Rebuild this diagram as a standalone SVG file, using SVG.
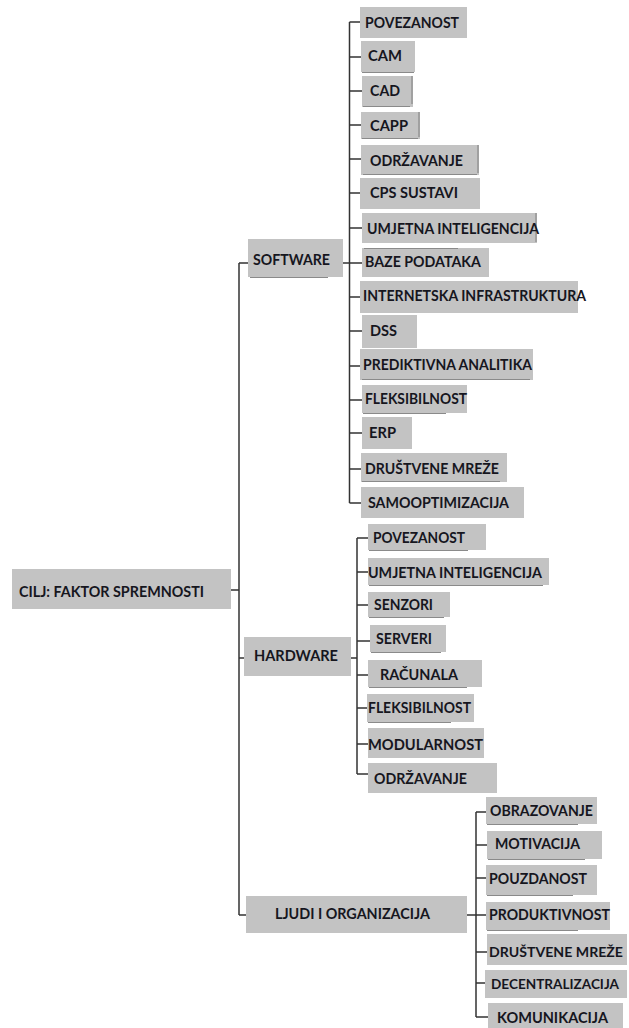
<svg xmlns="http://www.w3.org/2000/svg" width="629" height="1028" viewBox="0 0 629 1028">
<style>
.box{fill:#c3c3c3}
.lbl{font-family:Lato,"Liberation Sans",sans-serif;font-weight:700;font-size:15px;fill:#16161e}
.sm{font-size:13.5px}
.ln{stroke:#333;stroke-width:1.5;fill:none}
.sh{stroke:#8a8a8a;stroke-width:1.2;fill:none}
</style>
<rect width="629" height="1028" fill="#fff"/>
<g id="connectors">
<path class="ln" d="M231,590H239M239,263V915M239,263H248M239,658H244M239,915H246"/>
<path class="ln" d="M343,263H362M349.5,22V503M349.5,22H360M349.5,57H361M349.5,91H362M349.5,125H361M349.5,159H361M349.5,193H360M349.5,228H362M349.5,297H360M349.5,331H362M349.5,366H360M349.5,400H362M349.5,433H362M349.5,469H361M349.5,503H361"/>
<path class="ln" d="M351,658H357M357,538V774M357,538H368M357,572H368M357,605H368M357,641H370M357,675H368M357,708H367M357,744H368M357,774H368"/>
<path class="ln" d="M467,915H486M476,812V1017M476,812H486M476,845H487M476,878H486M476,952H487M476,983H485M476,1017H488"/>
</g>
<g id="root"><rect class="box" x="12" y="569" width="219" height="40"/><text class="lbl" x="19" y="597" textLength="185" lengthAdjust="spacingAndGlyphs">CILJ: FAKTOR SPREMNOSTI</text></g>
<g id="software"><rect class="box" x="248" y="239" width="95" height="38"/><path class="sh" d="M250,277.5H328"/><text class="lbl" x="253" y="265" textLength="77" lengthAdjust="spacingAndGlyphs">SOFTWARE</text></g>
<g id="hardware"><rect class="box" x="244" y="637" width="107" height="39"/><text class="lbl" x="254" y="661" textLength="84" lengthAdjust="spacingAndGlyphs">HARDWARE</text></g>
<g id="ljudi"><rect class="box" x="246" y="896" width="221" height="37"/><text class="lbl" x="275" y="919" textLength="155" lengthAdjust="spacingAndGlyphs">LJUDI I ORGANIZACIJA</text></g>

<g id="sw-povezanost"><rect class="box" x="360" y="7" width="107" height="31"/><text class="lbl" x="365" y="28" textLength="94" lengthAdjust="spacingAndGlyphs">POVEZANOST</text></g>
<g id="sw-cam"><rect class="box" x="361" y="41" width="54" height="31"/><path class="sh" d="M362,72.5H414"/><text class="lbl" x="368" y="61" textLength="34" lengthAdjust="spacingAndGlyphs">CAM</text></g>
<g id="sw-cad"><rect class="box" x="362" y="76" width="51" height="31"/><path class="sh" d="M363,106.5H410M412,76V104"/><text class="lbl" x="370" y="96" textLength="30" lengthAdjust="spacingAndGlyphs">CAD</text></g>
<g id="sw-capp"><rect class="box" x="361" y="112" width="59" height="27"/><path class="sh" d="M362,138.5H418M419,112V137"/><text class="lbl" x="370" y="131" textLength="38" lengthAdjust="spacingAndGlyphs">CAPP</text></g>
<g id="sw-odrzavanje"><rect class="box" x="361" y="145" width="118" height="30"/><path class="sh" d="M363,174.5H477M478,145V173"/><text class="lbl" x="370" y="166" textLength="93" lengthAdjust="spacingAndGlyphs">ODRŽAVANJE</text></g>
<g id="sw-cps"><rect class="box" x="360" y="178" width="120" height="31"/><text class="lbl" x="370" y="198" textLength="88" lengthAdjust="spacingAndGlyphs">CPS SUSTAVI</text></g>
<g id="sw-ui"><rect class="box" x="362" y="213" width="175" height="30"/><path class="sh" d="M536,213V242"/><text class="lbl" x="367" y="234" textLength="172" lengthAdjust="spacingAndGlyphs">UMJETNA INTELIGENCIJA</text></g>
<g id="sw-baze"><rect class="box" x="362" y="248" width="127" height="29"/><path class="sh" d="M364,248.5H458"/><text class="lbl" x="365" y="267" textLength="116" lengthAdjust="spacingAndGlyphs">BAZE PODATAKA</text></g>
<g id="sw-internet"><rect class="box" x="360" y="281" width="218" height="32"/><text class="lbl" x="363" y="301" textLength="223" lengthAdjust="spacingAndGlyphs">INTERNETSKA INFRASTRUKTURA</text></g>
<g id="sw-dss"><rect class="box" x="362" y="315" width="55" height="33"/><text class="lbl" x="370" y="336" textLength="27" lengthAdjust="spacingAndGlyphs">DSS</text></g>
<g id="sw-prediktivna"><rect class="box" x="360" y="349" width="173" height="31"/><path class="sh" d="M362,379.5H530"/><text class="lbl" x="363" y="370" textLength="169" lengthAdjust="spacingAndGlyphs">PREDIKTIVNA ANALITIKA</text></g>
<g id="sw-fleksibilnost"><rect class="box" x="362" y="385" width="105" height="28"/><path class="sh" d="M363,413.5H446"/><text class="lbl" x="365" y="404" textLength="102" lengthAdjust="spacingAndGlyphs">FLEKSIBILNOST</text></g>
<g id="sw-erp"><rect class="box" x="362" y="417" width="50" height="32"/><text class="lbl" x="369" y="438" textLength="27" lengthAdjust="spacingAndGlyphs">ERP</text></g>
<g id="sw-drustvene"><rect class="box" x="361" y="453" width="146" height="29"/><path class="sh" d="M362,481.5H500"/><text class="lbl" x="365" y="474" textLength="134" lengthAdjust="spacingAndGlyphs">DRUŠTVENE MREŽE</text></g>
<g id="sw-samooptimizacija"><rect class="box" x="361" y="487" width="163" height="31"/><text class="lbl" x="368" y="508" textLength="141" lengthAdjust="spacingAndGlyphs">SAMOOPTIMIZACIJA</text></g>

<g id="hw-povezanost"><rect class="box" x="368" y="524" width="118" height="26"/><path class="sh" d="M369,550.5H468"/><text class="lbl" x="373" y="543" textLength="92" lengthAdjust="spacingAndGlyphs">POVEZANOST</text></g>
<g id="hw-ui"><rect class="box" x="368" y="558" width="181" height="27"/><path class="sh" d="M369,585.5H543"/><text class="lbl" x="368" y="578" textLength="174" lengthAdjust="spacingAndGlyphs">UMJETNA INTELIGENCIJA</text></g>
<g id="hw-senzori"><rect class="box" x="368" y="592" width="82" height="25"/><path class="sh" d="M369,617.5H444"/><text class="lbl" x="374" y="610" textLength="59" lengthAdjust="spacingAndGlyphs">SENZORI</text></g>
<g id="hw-serveri"><rect class="box" x="370" y="625" width="76" height="27"/><path class="sh" d="M371,652.5H441"/><text class="lbl" x="376" y="644" textLength="56" lengthAdjust="spacingAndGlyphs">SERVERI</text></g>
<g id="hw-racunala"><rect class="box" x="368" y="660" width="114" height="27"/><path class="sh" d="M369,687.5H467"/><text class="lbl" x="380" y="680" textLength="78" lengthAdjust="spacingAndGlyphs">RAČUNALA</text></g>
<g id="hw-fleksibilnost"><rect class="box" x="367" y="694" width="107" height="28"/><path class="sh" d="M368,722.5H451"/><text class="lbl" x="368" y="713" textLength="103" lengthAdjust="spacingAndGlyphs">FLEKSIBILNOST</text></g>
<g id="hw-modularnost"><rect class="box" x="368" y="728" width="116" height="30"/><text class="lbl" x="368" y="750" textLength="115" lengthAdjust="spacingAndGlyphs">MODULARNOST</text></g>
<g id="hw-odrzavanje"><rect class="box" x="368" y="763" width="129" height="30"/><text class="lbl" x="374" y="784" textLength="93" lengthAdjust="spacingAndGlyphs">ODRŽAVANJE</text></g>

<g id="lj-obrazovanje"><rect class="box" x="486" y="797" width="111" height="27"/><path class="sh" d="M487,824.5H578"/><text class="lbl" x="490" y="816" textLength="103" lengthAdjust="spacingAndGlyphs">OBRAZOVANJE</text></g>
<g id="lj-motivacija"><rect class="box" x="487" y="831" width="115" height="28"/><path class="sh" d="M488,859.5H585"/><text class="lbl" x="495" y="849" textLength="85" lengthAdjust="spacingAndGlyphs">MOTIVACIJA</text></g>
<g id="lj-pouzdanost"><rect class="box" x="486" y="865" width="111" height="30"/><path class="sh" d="M487,895.5H573"/><text class="lbl" x="489" y="884" textLength="98" lengthAdjust="spacingAndGlyphs">POUZDANOST</text></g>
<g id="lj-produktivnost"><rect class="box" x="486" y="902" width="124" height="28"/><path class="sh" d="M487,930.5H578"/><text class="lbl" x="489" y="920" textLength="121" lengthAdjust="spacingAndGlyphs">PRODUKTIVNOST</text></g>
<g id="lj-drustvene"><rect class="box" x="487" y="934" width="140" height="31"/><text class="lbl sm" x="489" y="957" textLength="134" lengthAdjust="spacingAndGlyphs">DRUŠTVENE MREŽE</text></g>
<g id="lj-decentralizacija"><rect class="box" x="485" y="970" width="142" height="28"/><text class="lbl sm" x="491" y="989" textLength="128" lengthAdjust="spacingAndGlyphs">DECENTRALIZACIJA</text></g>
<g id="lj-komunikacija"><rect class="box" x="488" y="1003" width="135" height="25"/><text class="lbl" x="497" y="1023" textLength="111" lengthAdjust="spacingAndGlyphs">KOMUNIKACIJA</text></g>
</svg>
